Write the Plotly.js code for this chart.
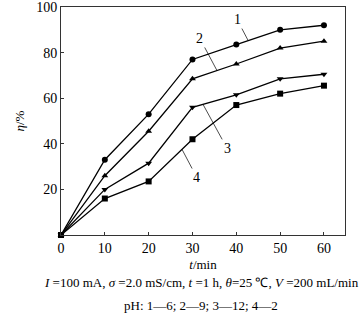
<!DOCTYPE html>
<html><head><meta charset="utf-8">
<script src="https://cdn.plot.ly/plotly-3.0.1.min.js"></script>
<style>html,body{margin:0;padding:0;background:#fff}#c{width:361px;height:325px}</style>
</head><body><div id="c"></div>
<script>
const time = [0, 10, 20, 30, 40, 50, 60];
const s1 = [0, 33, 53, 77, 83.5, 90, 92];
const s2 = [0, 26, 45.5, 68.5, 75, 82, 85];
const s3 = [0, 20, 31.5, 56, 61.5, 68.5, 70.5];
const s4 = [0, 16, 23.5, 42, 57, 62, 65.5];
const labels = ['1', '2', '3', '4'];
const xTicks = [0, 10, 20, 30, 40, 50, 60];
const yTicks = [20, 40, 60, 80, 100];

const font = 'Liberation Serif, Times New Roman, serif';
const symbols = ['circle', 'triangle-up', 'triangle-down', 'square'];
const sizes = [6, 6, 6, 6];
const series = [s1, s2, s3, s4];
const traces = series.map((s, i) => ({
  x: time, y: s, mode: 'lines+markers', type: 'scatter', cliponaxis: false,
  line: {color: '#000', width: 1.3},
  marker: {symbol: symbols[i], size: sizes[i], color: '#000'},
  showlegend: false
}));

// label positions / leader-line targets (data coords)
const lab = [
  {tx: 40.2, ty: 94.5, px: 42.7, py: 85.3},
  {tx: 31.7, ty: 86.2, px: 35.6, py: 72.1},
  {tx: 37.9, ty: 38.0, px: 32.4, py: 57.3},
  {tx: 31.0, ty: 25.2, px: 27.6, py: 37.6}
];
const annotations = lab.map((a, i) => ({
  x: a.px, y: a.py, xref: 'x', yref: 'y', axref: 'x', ayref: 'y',
  ax: a.tx, ay: a.ty, text: labels[i], showarrow: true, arrowhead: 0,
  arrowwidth: 0.7, arrowcolor: '#000', standoff: 0, startstandoff: 0,
  font: {family: font, size: 14, color: '#000'}
}));
annotations.push({
  xref: 'paper', yref: 'paper', x: 0.5, y: 0, xanchor: 'center', yanchor: 'middle',
  xshift: -2, yshift: -47, showarrow: false,
  text: '<i>I</i> =100 mA, <i>σ</i> =2.0 mS/cm, <i>t</i> =1 h, <i>θ</i>=25 ℃, <i>V</i> =200 mL/min',
  font: {family: font, size: 13, color: '#000'}
});
annotations.push({
  xref: 'paper', yref: 'paper', x: 0.5, y: 0, xanchor: 'center', yanchor: 'middle',
  xshift: -2, yshift: -70, showarrow: false,
  text: 'pH: 1—6; 2—9; 3—12; 4—2',
  font: {family: font, size: 13, color: '#000'}
});

const layout = {
  width: 361, height: 325,
  margin: {l: 61, r: 16, t: 7, b: 90},
  paper_bgcolor: '#fff', plot_bgcolor: '#fff',
  font: {family: font, size: 13, color: '#000'},
  xaxis: {
    range: [0, 64.8], tickvals: xTicks, ticktext: xTicks.map(String),
    ticks: 'inside', ticklen: 3, tickcolor: '#333', showgrid: false, zeroline: false,
    showline: true, linecolor: '#333', linewidth: 1, mirror: true,
    ticklabeloverflow: 'allow',
    tickfont: {family: font, size: 14},
    title: {text: '<i>t</i>/min', font: {family: font, size: 13}, standoff: 5}
  },
  yaxis: {
    range: [0, 100], tickvals: yTicks, ticktext: yTicks.map(String),
    ticks: 'inside', ticklen: 3, tickcolor: '#333', showgrid: false, zeroline: false,
    showline: true, linecolor: '#333', linewidth: 1, mirror: true,
    ticklabeloverflow: 'allow',
    tickfont: {family: font, size: 14},
    title: {text: '<i>η</i>/%', font: {family: font, size: 13}, standoff: 8}
  },
  annotations: annotations
};
Plotly.newPlot('c', traces, layout, {displayModeBar: false, staticPlot: true});
</script></body></html>
